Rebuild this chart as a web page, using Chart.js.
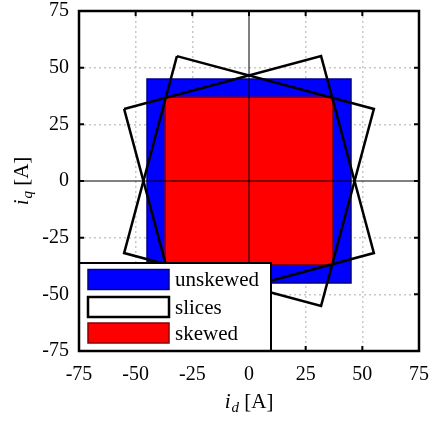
<!DOCTYPE html>
<html>
<head>
<meta charset="utf-8">
<script src="https://cdn.jsdelivr.net/npm/chart.js@4.4.0/dist/chart.umd.min.js"></script>
<style>
  html, body { margin: 0; padding: 0; background: #fff; }
  #wrap { width: 429px; height: 422px; }
</style>
</head>
<body>
<div id="wrap"><canvas id="plot"></canvas></div>
<script>
// axis range and tick positions (A)
const axisMin = -75;
const axisMax = 75;
const tickStep = 25;
const innerTicks = [-50, -25, 0, 25, 50];

// current regions: corner coordinates, closed polygons (id, iq)
const unskewedD = [-45, -45, 45, 45, -45];
const unskewedQ = [-45, 45, 45, -45, -45];
const skewedD = [-37, -37, 37, 37, -37];
const skewedQ = [-37, 37, 37, -37, -37];
const sliceAD = [-31.8, -55.1, 31.8, 55.1, -31.8];
const sliceAQ = [55.1, -31.8, -55.1, 31.8, 55.1];
const sliceBD = [-55.1, -31.8, 55.1, 31.8, -55.1];
const sliceBQ = [31.8, -55.1, -31.8, 55.1, 31.8];

const legendLabels = ['unskewed', 'slices', 'skewed'];

const FONT = '"Liberation Serif", "Times New Roman", serif';

function toPoints(xs, ys) {
  return xs.map((x, i) => ({x: x, y: ys[i]}));
}

function polygon(label, xs, ys, fillColor, edgeColor, width) {
  return {
    label: label,
    data: toPoints(xs, ys),
    showLine: true,
    pointRadius: 0,
    tension: 0,
    fill: 'shape',
    backgroundColor: fillColor,
    borderColor: edgeColor,
    borderWidth: width
  };
}

// datasets listed top-first: Chart.js paints index 0 last
const datasets = [
  polygon('slices', sliceAD, sliceAQ, 'rgba(0,0,0,0)', '#000000', 2.5),
  polygon('slices', sliceBD, sliceBQ, 'rgba(0,0,0,0)', '#000000', 2.5),
  polygon('skewed', skewedD, skewedQ, '#ff0000', '#8b0000', 1.5),
  polygon('unskewed', unskewedD, unskewedQ, '#0000ff', '#00008b', 1.5)
];

//----------------------------------------
// frame, zero lines, inner ticks, legend, axis titles
//----------------------------------------
const decorations = {
  id: 'decorations',
  afterDatasetsDraw(chart) {
    const ctx = chart.ctx;
    const xs = chart.scales.x, ys = chart.scales.y;
    const a = chart.chartArea;
    const x0 = xs.getPixelForValue(0), y0 = ys.getPixelForValue(0);

    ctx.save();
    ctx.strokeStyle = '#000';
    ctx.lineWidth = 1;
    ctx.beginPath();
    ctx.moveTo(a.left, y0); ctx.lineTo(a.right, y0);
    ctx.moveTo(x0, a.top); ctx.lineTo(x0, a.bottom);
    ctx.stroke();

    // little inward ticks on every side
    ctx.lineWidth = 2;
    ctx.beginPath();
    innerTicks.forEach(v => {
      const px = xs.getPixelForValue(v), py = ys.getPixelForValue(v);
      ctx.moveTo(px, a.top); ctx.lineTo(px, a.top + 5);
      ctx.moveTo(px, a.bottom); ctx.lineTo(px, a.bottom - 5);
      ctx.moveTo(a.left, py); ctx.lineTo(a.left + 5, py);
      ctx.moveTo(a.right, py); ctx.lineTo(a.right - 5, py);
    });
    ctx.stroke();

    // legend box, bottom left corner of the plot
    const lx = a.left, ly = 263, lw = 192, lh = a.bottom - 263;
    ctx.fillStyle = '#fff';
    ctx.fillRect(lx, ly, lw, lh);
    ctx.lineWidth = 2;
    ctx.strokeRect(lx, ly, lw, lh);

    const swatches = [datasets[3], datasets[0], datasets[2]];
    const rowY = [279.5, 307, 333];
    ctx.font = '21px ' + FONT;
    ctx.textBaseline = 'middle';
    swatches.forEach((ds, i) => {
      const sy = rowY[i] - 10;
      ctx.fillStyle = ds.backgroundColor === 'rgba(0,0,0,0)' ? '#fff' : ds.backgroundColor;
      ctx.fillRect(88, sy, 81, 20);
      ctx.lineWidth = ds.borderWidth;
      ctx.strokeStyle = ds.borderColor;
      ctx.strokeRect(88, sy, 81, 20);
      ctx.fillStyle = '#000';
      ctx.fillText(legendLabels[i], 175, rowY[i] + 1);
    });

    // plot frame
    ctx.strokeStyle = '#000';
    ctx.lineWidth = 2.5;
    ctx.strokeRect(a.left, a.top, a.right - a.left, a.bottom - a.top);
    ctx.restore();
  },
  afterDraw(chart) {
    const ctx = chart.ctx;
    const a = chart.chartArea;
    ctx.save();
    ctx.fillStyle = '#000';
    ctx.textBaseline = 'alphabetic';
    // writes "i_sub [A]" centred on 0 along the current x direction
    function title(sub) {
      const italic = 'italic 21px ' + FONT;
      const plain = '21px ' + FONT;
      const small = 'italic 15px ' + FONT;
      ctx.font = italic; const wi = ctx.measureText('i').width;
      ctx.font = small; const ws = ctx.measureText(sub).width;
      ctx.font = plain; const wr = ctx.measureText(' [A]').width;
      let x = -(wi + ws + wr + 1) / 2;
      ctx.font = italic; ctx.fillText('i', x, 0); x += wi + 1;
      ctx.font = small; ctx.fillText(sub, x, 4); x += ws;
      ctx.font = plain; ctx.fillText(' [A]', x, 0);
    }
    ctx.translate((a.left + a.right) / 2, 408);
    title('d');
    ctx.setTransform(1, 0, 0, 1, 0, 0);
    ctx.translate(28, (a.top + a.bottom) / 2);
    ctx.rotate(-Math.PI / 2);
    title('q');
    ctx.restore();
  }
};

const gridColor = ctx => {
  const v = ctx.tick && ctx.tick.value;
  return (v === 0 || v === axisMin || v === axisMax) ? 'rgba(0,0,0,0)' : '#c8c8c8';
};

function axis(pos) {
  return {
    type: 'linear',
    position: pos,
    min: axisMin,
    max: axisMax,
    grid: { color: gridColor, lineWidth: 1.5, drawTicks: false },
    border: { display: false, dash: [2, 3] },
    ticks: {
      stepSize: tickStep,
      color: '#000',
      padding: pos === 'left' ? 10 : 12,
      font: { family: FONT, size: 20 }
    },
    afterFit(scale) {
      // fixed plot box: 79..419 across, 11..351 down
      if (pos === 'left') {
        scale.width = 79;
        scale.paddingTop = 11;
        scale.paddingBottom = 0;
      } else {
        scale.height = 71;
        scale.paddingLeft = 0;
        scale.paddingRight = 10;
      }
    }
  };
}

new Chart(document.getElementById('plot'), {
  type: 'scatter',
  data: { datasets: datasets },
  options: {
    responsive: true,
    maintainAspectRatio: false,
    animation: false,
    layout: { padding: 0 },
    scales: { x: axis('bottom'), y: axis('left') },
    plugins: { legend: { display: false }, tooltip: { enabled: false } }
  },
  plugins: [decorations]
});
</script>
</body>
</html>
